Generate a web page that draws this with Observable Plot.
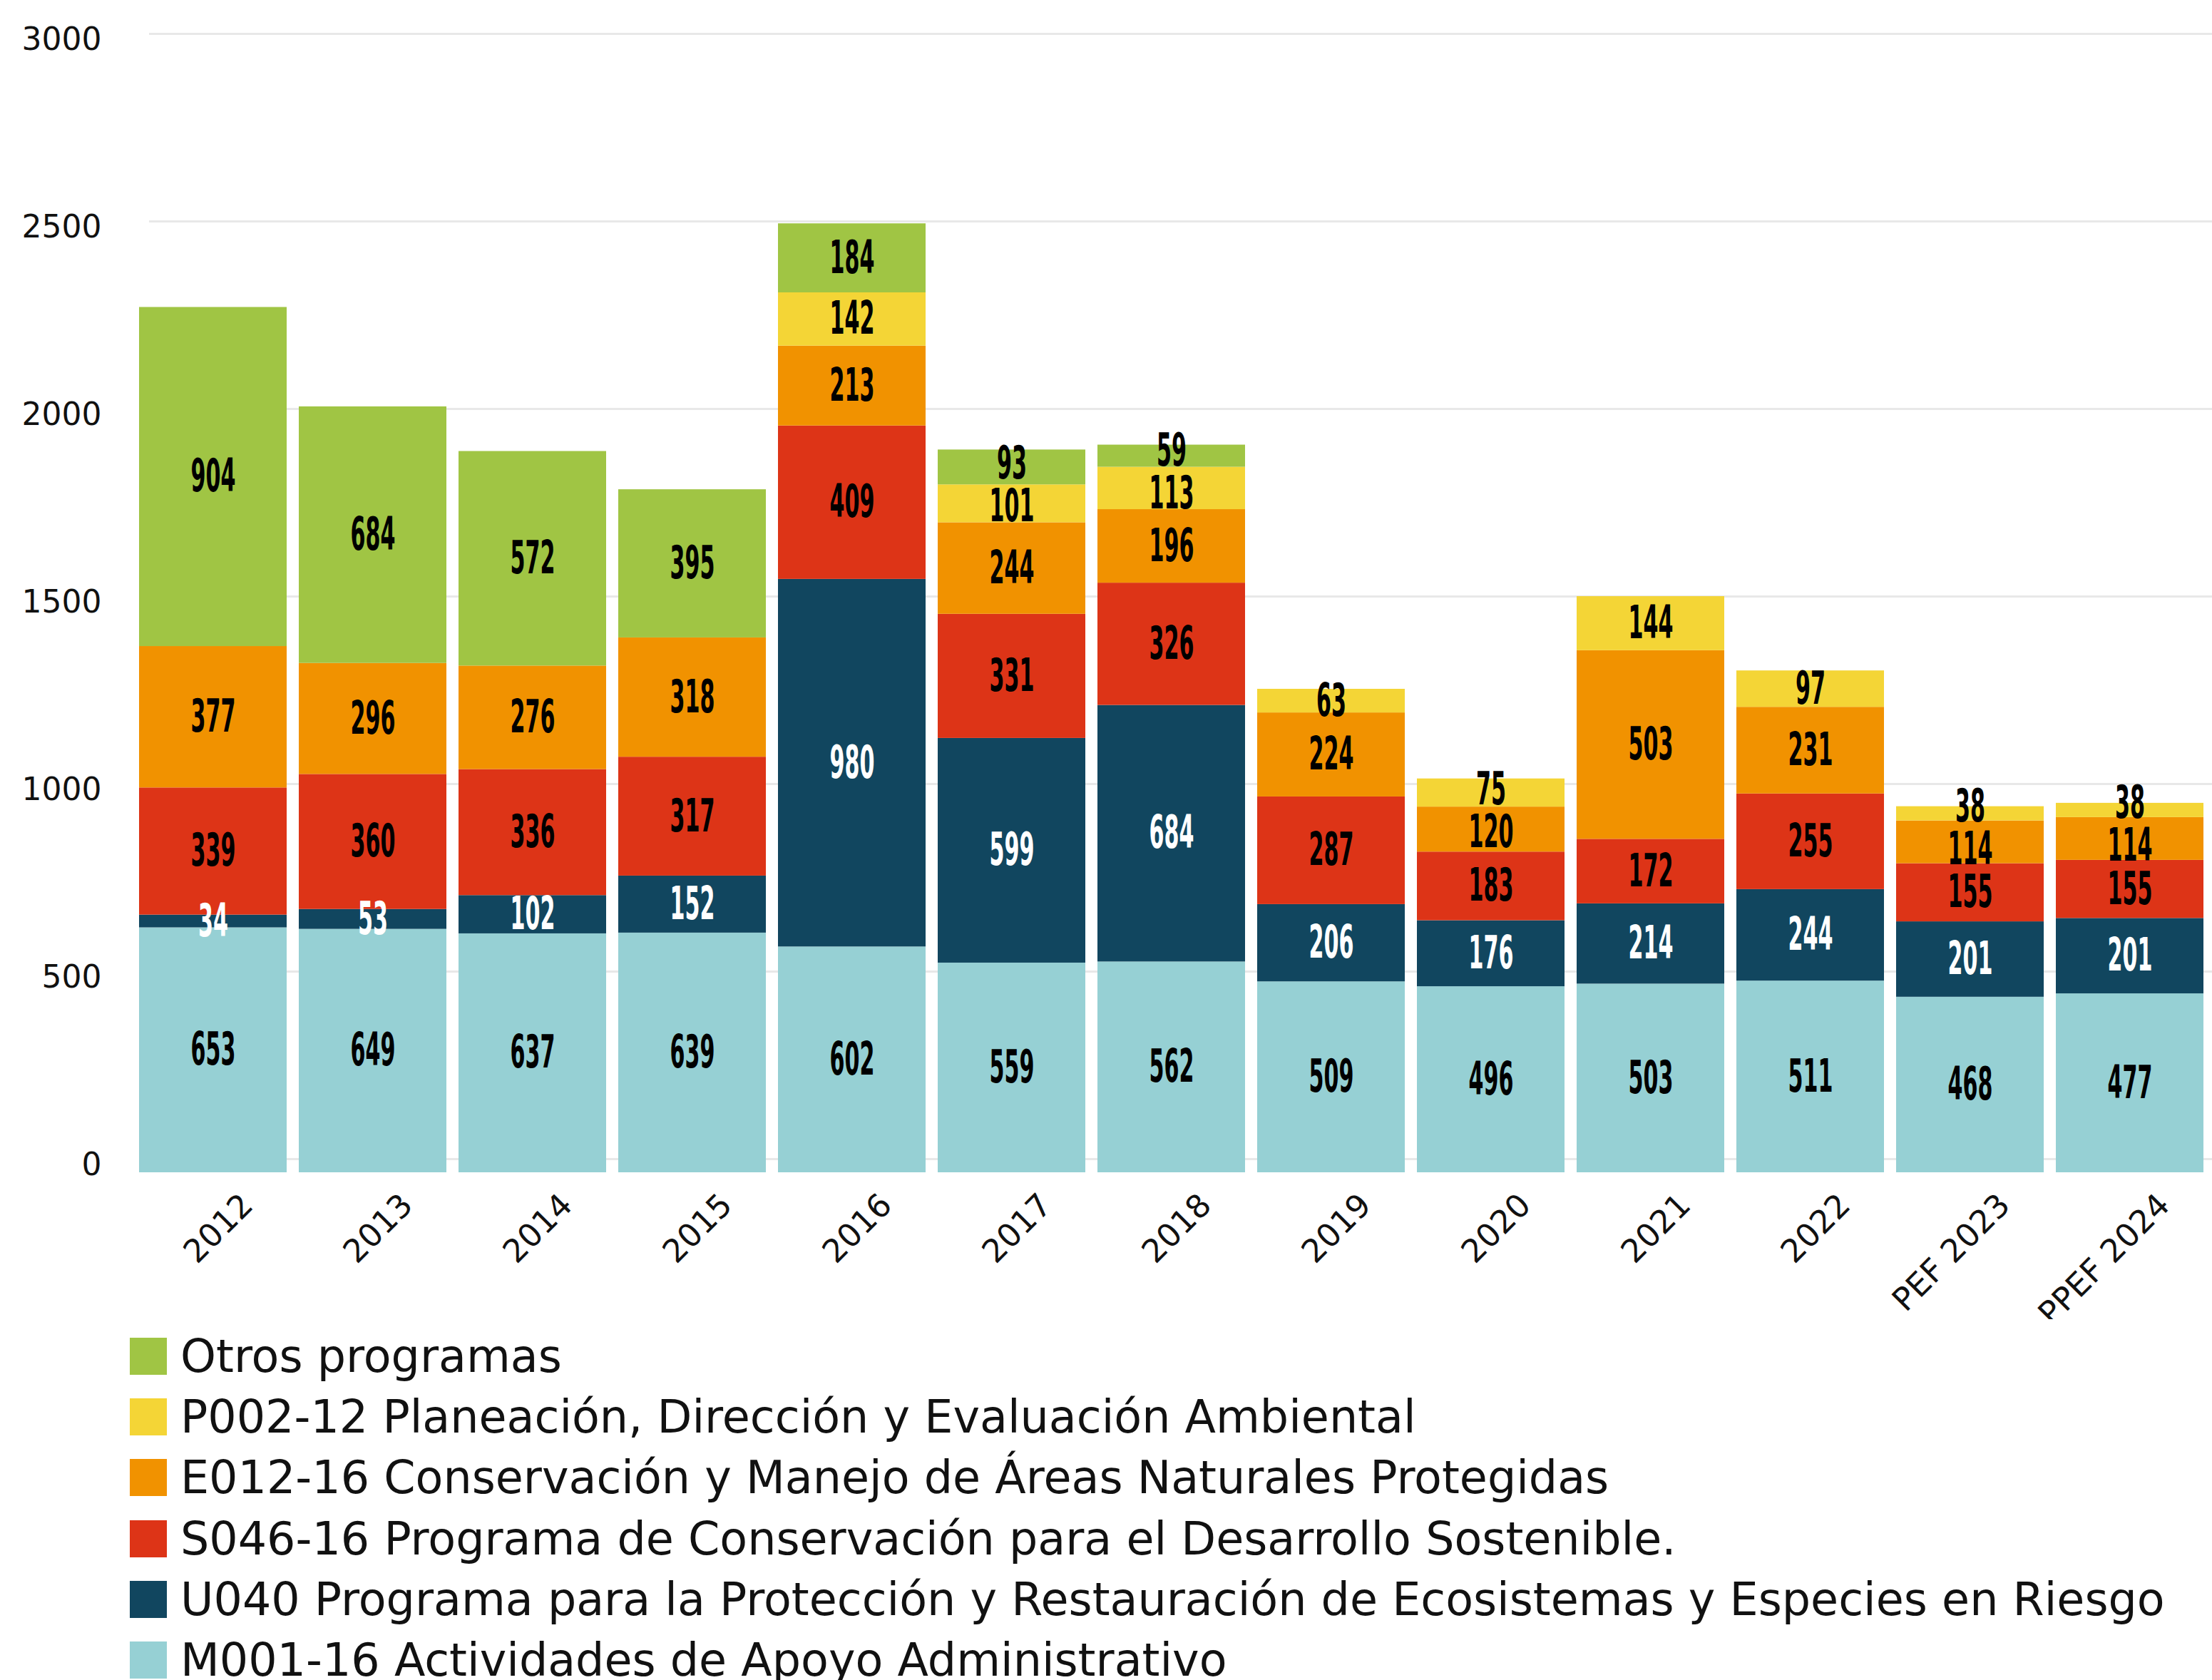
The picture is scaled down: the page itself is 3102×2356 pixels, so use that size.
<!DOCTYPE html>
<html>
<head>
<meta charset="utf-8">
<script src="https://cdn.jsdelivr.net/npm/d3@7"></script>
<script src="https://cdn.jsdelivr.net/npm/@observablehq/plot@0.6"></script>
<style>
  html, body { margin: 0; padding: 0; background: #ffffff; }
  #chart svg { display: block; }
  #legend { padding: 9px 0 0 182px; font-family: "DejaVu Sans", sans-serif; font-size: 63.5px; color: #111; }
  .item { display: flex; align-items: center; height: 85.3px; white-space: nowrap; }
  .sw { width: 52px; height: 52px; margin-right: 19px; flex: none; }
</style>
</head>
<body>
<div id="chart"></div>
<div id="legend"></div>
<script>
// ---- data (millones de pesos) ----
const years = ["2012","2013","2014","2015","2016","2017","2018","2019","2020","2021","2022","PEF 2023","PPEF 2024"];
// stacking order: bottom to top
const programs = [
  "M001-16 Actividades de Apoyo Administrativo",
  "U040 Programa para la Protección y Restauración de Ecosistemas y Especies en Riesgo",
  "S046-16 Programa de Conservación para el Desarrollo Sostenible.",
  "E012-16 Conservación y Manejo de Áreas Naturales Protegidas",
  "P002-12 Planeación, Dirección y Evaluación Ambiental",
  "Otros programas"
];
const colors = ["#96D0D4", "#11465F", "#DD3417", "#F19200", "#F4D536", "#A0C544"];
const m001  = [653, 649, 637, 639, 602, 559, 562, 509, 496, 503, 511, 468, 477];
const u040  = [34, 53, 102, 152, 980, 599, 684, 206, 176, 214, 244, 201, 201];
const s046  = [339, 360, 336, 317, 409, 331, 326, 287, 183, 172, 255, 155, 155];
const e012  = [377, 296, 276, 318, 213, 244, 196, 224, 120, 503, 231, 114, 114];
const p002  = [0, 0, 0, 0, 142, 101, 113, 63, 75, 144, 97, 38, 38];
const otros = [904, 684, 572, 395, 184, 93, 59, 0, 0, 0, 0, 0, 0];
const yTicks = [0, 500, 1000, 1500, 2000, 2500, 3000];

const series = [m001, u040, s046, e012, p002, otros];
const data = [];
series.forEach((vals, p) => {
  vals.forEach((v, i) => data.push({year: years[i], program: programs[p], value: v}));
});
const shown = data.filter(d => d.value > 0);

const axisFont = "'DejaVu Sans', sans-serif";
const labelFont = "'Liberation Sans Narrow', 'DejaVu Sans Condensed', 'Liberation Sans', sans-serif";
const labelSize = 64;

const chart = Plot.plot({
  width: 3102,
  height: 1850,
  marginLeft: 183,
  marginRight: 0,
  marginTop: 66,
  marginBottom: 206,
  style: {fontFamily: axisFont, fontSize: "42px", color: "#111", background: "#ffffff"},
  x: {domain: years, paddingInner: 0.078, paddingOuter: 0.036, label: null},
  y: {domain: [0, 3000], label: null},
  color: {domain: programs, range: colors},
  marks: [
    Plot.gridY(yTicks, {stroke: "#e8e8e8", strokeOpacity: 1, strokeWidth: 3, dy: -19, insetLeft: 26}),
    Plot.axisY(yTicks, {tickSize: 0, tickPadding: 41, dy: -11, fontSize: 44, tickFormat: d3.format("d"), label: null}),
    Plot.barY(shown, Plot.stackY({x: "year", y: "value", fill: "program", order: programs})),
    Plot.text(shown, Plot.stackY({
      x: "year", y: "value", z: "program", order: programs,
      text: d => String(d.value),
      fill: {value: d => d.program === programs[1] ? "#ffffff" : "#000000", scale: null},
      fontSize: labelSize, fontWeight: "bold", fontFamily: labelFont,
      className: "barlabel"
    })),
    Plot.axisX({tickRotate: -45, tickSize: 0, tickPadding: 38, dx: 48, fontSize: 45, label: null})
  ]
});
document.getElementById("chart").appendChild(chart);

// condense the bar value labels horizontally to match the narrow display type
const ctx = document.createElement("canvas").getContext("2d");
ctx.font = `bold ${labelSize}px ${labelFont}`;
const digitW = ctx.measureText("0000000000").width / 10;
const sx = Math.min(1, 21 / digitW);

// simple collision avoidance between neighbouring labels in the same bar
const minGap = 60;
const labels = Array.from(chart.querySelectorAll(".barlabel text")).map(t => {
  const m = /translate\(([-\d.e]+),\s*([-\d.e]+)\)/.exec(t.getAttribute("transform") || "");
  return {t, x: m ? +m[1] : 0, y: m ? +m[2] : 0};
});
const cols = d3.group(labels, d => Math.round(d.x));
for (const col of cols.values()) {
  col.sort((a, b) => b.y - a.y); // bottom to top
  for (let iter = 0; iter < 20; iter++) {
    for (let i = 0; i < col.length - 1; i++) {
      const lo = col[i], hi = col[i + 1];
      const gap = lo.y - hi.y;
      if (gap < minGap) {
        const push = (minGap - gap) / 2;
        lo.y += push; hi.y -= push;
      }
    }
  }
}
labels.forEach(d => d.t.setAttribute("transform", `translate(${d.x},${d.y}) scale(${sx},1)`));

// legend (top to bottom: Otros first)
const legend = d3.select("#legend");
for (let p = programs.length - 1; p >= 0; p--) {
  const it = legend.append("div").attr("class", "item");
  it.append("div").attr("class", "sw").style("background", colors[p]);
  it.append("span").text(programs[p]);
}
</script>
</body>
</html>
